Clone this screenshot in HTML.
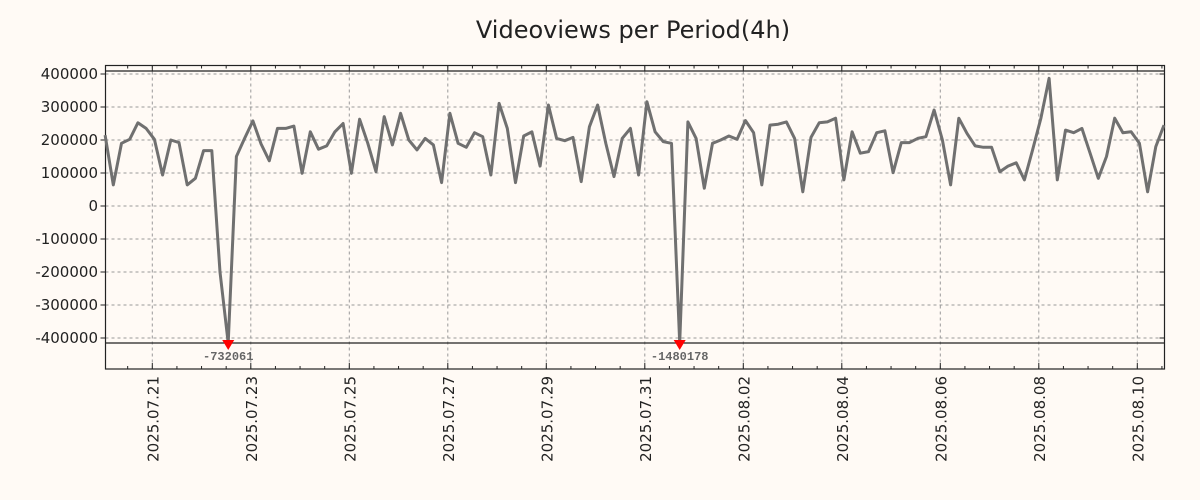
<!DOCTYPE html>
<html><head><meta charset="utf-8"><style>
body{margin:0;background:#fffaf5;}
svg{display:block;font-family:"DejaVu Sans","Liberation Sans",sans-serif;}
</style></head><body>
<svg id="chart" width="1200" height="500" viewBox="0 0 1200 500">
<rect width="1200" height="500" fill="#fffaf5"/>
<text x="633" y="38" text-anchor="middle" font-size="24" fill="#222">Videoviews per Period(4h)</text>
<g id="grid"></g><g id="axes"></g><g id="series"></g>
</svg>
<script>
const startHour = -23;
const stepHours = 4;
const values = [215000,64000,190000,202000,252000,235000,202000,94000,200000,192000,64000,84000,168000,168000,-200000,-732061,150000,205000,258000,188000,137000,235000,235000,242000,99000,225000,172000,182000,225000,250000,99000,263000,190000,104000,
271000,185000,281000,200000,170000,205000,185000,71000,281000,190000,178000,222000,210000,94000,311000,235000,71000,212000,225000,121000,306000,205000,198000,208000,74000,240000,306000,190000,89000,205000,235000,94000,316000,
225000,195000,190000,-1480178,255000,205000,54000,190000,200000,212000,202000,259000,222000,64000,245000,248000,255000,205000,43000,208000,252000,255000,266000,79000,225000,160000,165000,222000,228000,101000,192000,192000,205000,
210000,291000,200000,64000,266000,220000,182000,178000,178000,104000,121000,131000,79000,170000,266000,387000,79000,230000,222000,235000,160000,84000,150000,266000,222000,225000,190000,43000,180000,245000];
const yTicks = [400000,300000,200000,100000,0,-100000,-200000,-300000,-400000];
const xTickLabels = ["2025.07.21","2025.07.23","2025.07.25","2025.07.27","2025.07.29","2025.07.31","2025.08.02","2025.08.04","2025.08.06","2025.08.08","2025.08.10"];
const xTickDays = [0,2,4,6,8,10,12,14,16,18,20];

const L=105.5,R=1164.5,T=65.5,B=369, clipTop=71, clipBot=343;
const X = h => 152.3 + h/24*49.25;
const Y = v => 206 - v/100000*33;
const NS="http://www.w3.org/2000/svg";
function mk(tag, attrs, parent){const e=document.createElementNS(NS,tag);for(const k in attrs)e.setAttribute(k,attrs[k]);parent.appendChild(e);return e;}
const grid=document.getElementById('grid'), axes=document.getElementById('axes'), series=document.getElementById('series');

yTicks.forEach(v=>{
  const y=Y(v);
  const g=mk('line',{x1:L,x2:R,y1:y,y2:y,stroke:'#999','stroke-dasharray':'3,3','stroke-width':1},grid);
  
  
  const t=mk('line',{x1:L-5,x2:L,y1:y,y2:y,stroke:'#222'},axes);
  
  
  const t2=mk('line',{x1:R-5,x2:R,y1:y,y2:y,stroke:'#222'},axes);
  
  
  const lb=mk('text',{x:98,y:y+5,'text-anchor':'end','font-size':15,fill:'#222'},axes);
  lb.textContent=String(v);
  
  
});
for(let d=-0.5; d<=21; d+=0.5){
  const x=X(d*24); if(x<L||x>R) continue;
  const major = xTickDays.includes(d);
  const len = major?6:3;
  const a=mk('line',{x1:x,x2:x,y1:B,y2:B-len,stroke:'#222'},axes);
  
  
  const b=mk('line',{x1:x,x2:x,y1:T,y2:T+len,stroke:'#222'},axes);
  
  
}
xTickDays.forEach((d,i)=>{
  const x=X(d*24);
  const g=mk('line',{x1:x,x2:x,y1:T,y2:B,stroke:'#999','stroke-dasharray':'3,3','stroke-width':1},grid);
  
  
  const lb=mk('text',{x:0,y:0,'text-anchor':'end','font-size':15,fill:'#222',transform:`translate(${x+6},376) rotate(-90)`},axes);
  lb.textContent=xTickLabels[i];
  
  
});
const fr=mk('rect',{x:L,y:T,width:R-L,height:B-T,fill:'none',stroke:'#222','stroke-width':1.2},axes);


[clipTop,clipBot].forEach(y=>{
  const c=mk('line',{x1:L,x2:R,y1:y,y2:y,stroke:'#222','stroke-width':1.2},axes);
  
  
});
let pts=[];
values.forEach((v,i)=>{
  const x=X(startHour+i*stepHours);
  let y=Y(v);
  if(y>clipBot){
    y=clipBot;
    const m=mk('polygon',{points:`${x-6},${clipBot-3} ${x+6},${clipBot-3} ${x},${clipBot+7}`,fill:'#f00'},series);
    
    
    const t=mk('text',{x:x,y:clipBot+17,'text-anchor':'middle','font-size':12,'font-family':'"Liberation Mono",monospace','font-weight':'bold',fill:'#666'},series);
    t.textContent=String(v);
    
    
  }
  if(y<clipTop) y=clipTop;
  pts.push(x.toFixed(1)+','+y.toFixed(1));
});
const pl=mk('polyline',{points:pts.join(' '),fill:'none',stroke:'#707070','stroke-width':3,'stroke-linejoin':'round'},series);


series.insertBefore(pl, series.firstChild);
</script>
</body></html>
